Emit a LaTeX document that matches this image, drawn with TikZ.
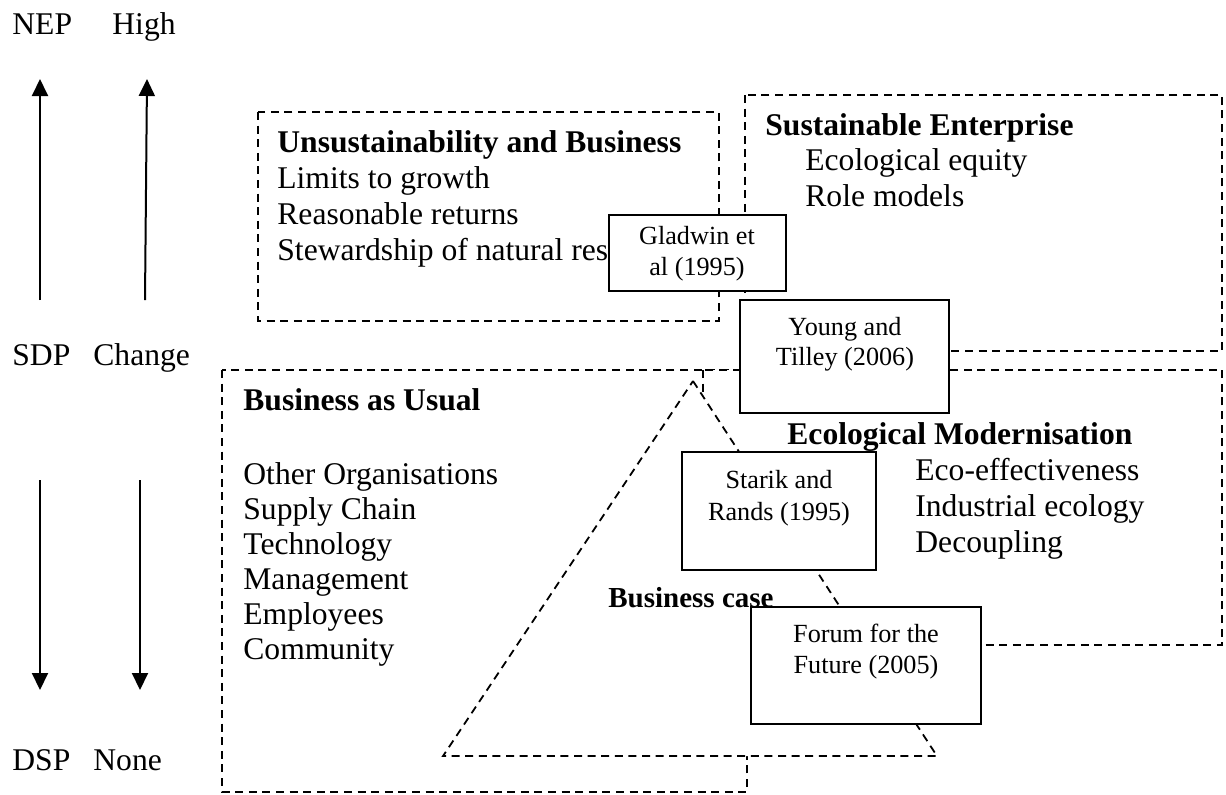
\documentclass[tikz,border=0pt]{standalone}
\usepackage{fontspec}
\setmainfont{Liberation Serif}
\usetikzlibrary{arrows.meta}

\tikzset{
    bigtext/.style={font=\fontsize{15.8}{18}\selectfont, inner sep=0pt, anchor=base west},
    bigtitle/.style={bigtext, font=\fontsize{15.8}{18}\selectfont\bfseries},
    smalltext/.style={font=\fontsize{13.1}{15}\selectfont, inner sep=0pt, anchor=base},
    dashbox/.style={draw, fill=white, line width=0.9pt, dash pattern=on 4pt off 2.8pt},
    refbox/.style={draw, fill=white, line width=1pt},
    scalearrow/.style={line width=1pt, -{Triangle[length=8.5pt, width=8pt]}}
}

\begin{document}
\begin{tikzpicture}[x=0.5pt, y=-0.5pt]
    \useasboundingbox ( 0, 0 ) rectangle ( 1226, 794 );

    % шкалы
    \node [bigtext] (nep) at ( 12, 34 ) {NEP};
    \node [bigtext] (high) at ( 112, 34 ) {High};
    \node [bigtext] (sdp) at ( 12, 365 ) {SDP};
    \node [bigtext] (change) at ( 93, 365 ) {Change};
    \node [bigtext] (dsp) at ( 12, 770 ) {DSP};
    \node [bigtext] (none) at ( 93, 770 ) {None};

    \coordinate (nepLow) at ( 40, 300 );
    \coordinate (nepTop) at ( 40, 79 );
    \coordinate (highLow) at ( 145, 300 );
    \coordinate (highTop) at ( 147, 79 );
    \coordinate (dspTop) at ( 40, 480 );
    \coordinate (dspLow) at ( 40, 690 );
    \coordinate (noneTop) at ( 140, 480 );
    \coordinate (noneLow) at ( 140, 690 );
    \draw [scalearrow] (nepLow) -- (nepTop);
    \draw [scalearrow] (highLow) -- (highTop);
    \draw [scalearrow] (dspTop) -- (dspLow);
    \draw [scalearrow] (noneTop) -- (noneLow);

    % unsustainability
    \draw [dashbox] ( 258, 112 ) rectangle ( 719, 321 );
    \node [bigtitle] (unsTitle) at ( 277, 152 ) {Unsustainability and Business};
    \node [bigtext] (uns1) at ( 277, 188 ) {Limits to growth};
    \node [bigtext] (uns2) at ( 277, 224 ) {Reasonable returns};
    \node [bigtext] (uns3) at ( 277, 260 ) {Stewardship of natural res};

    % sustainable enterprise
    \draw [dashbox] ( 745, 95 ) rectangle ( 1222, 351 );
    \node [bigtitle] (seTitle) at ( 765, 135 ) {Sustainable Enterprise};
    \node [bigtext] (se1) at ( 805, 170 ) {Ecological equity};
    \node [bigtext] (se2) at ( 805, 206 ) {Role models};

    % business as usual
    \draw [dashbox] ( 222, 370 ) rectangle ( 747, 792 );
    \node [bigtitle] (bauTitle) at ( 243, 410 ) {Business as Usual};
    \node [bigtext] (bau1) at ( 243, 484 ) {Other Organisations};
    \node [bigtext] (bau2) at ( 243, 519 ) {Supply Chain};
    \node [bigtext] (bau3) at ( 243, 554 ) {Technology};
    \node [bigtext] (bau4) at ( 243, 589 ) {Management};
    \node [bigtext] (bau5) at ( 243, 624 ) {Employees};
    \node [bigtext] (bau6) at ( 243, 659 ) {Community};

    % ecological modernisation
    \draw [dashbox] ( 703, 370 ) rectangle ( 1222, 645 );
    \node [bigtitle] (emTitle) at ( 787, 444 ) {Ecological Modernisation};
    \node [bigtext] (em1) at ( 915, 480 ) {Eco-effectiveness};
    \node [bigtext] (em2) at ( 915, 516 ) {Industrial ecology};
    \node [bigtext] (em3) at ( 915, 552 ) {Decoupling};

    % business case
    \draw [dashbox] ( 693, 381 ) -- ( 937, 756 ) -- ( 443, 756 ) -- cycle;
    \node [bigtitle, font=\fontsize{14.5}{17}\selectfont\bfseries] (caseTitle) at ( 608, 607 ) {Business case};

    % ссылки
    \draw [refbox] ( 609, 215 ) rectangle ( 786, 291 );
    \node [smalltext] (gladwin1) at ( 697, 244 ) {Gladwin et};
    \node [smalltext] (gladwin2) at ( 697, 275 ) {al (1995)};

    \draw [refbox] ( 740, 300 ) rectangle ( 949, 413 );
    \node [smalltext] (young1) at ( 845, 335 ) {Young and};
    \node [smalltext] (young2) at ( 845, 365 ) {Tilley (2006)};

    \draw [refbox] ( 682, 452 ) rectangle ( 876, 570 );
    \node [smalltext] (starik1) at ( 779, 488 ) {Starik and};
    \node [smalltext] (starik2) at ( 779, 520 ) {Rands (1995)};

    \draw [refbox] ( 751, 607 ) rectangle ( 981, 724 );
    \node [smalltext] (forum1) at ( 866, 642 ) {Forum for the};
    \node [smalltext] (forum2) at ( 866, 673 ) {Future (2005)};
\end{tikzpicture}
\end{document}
